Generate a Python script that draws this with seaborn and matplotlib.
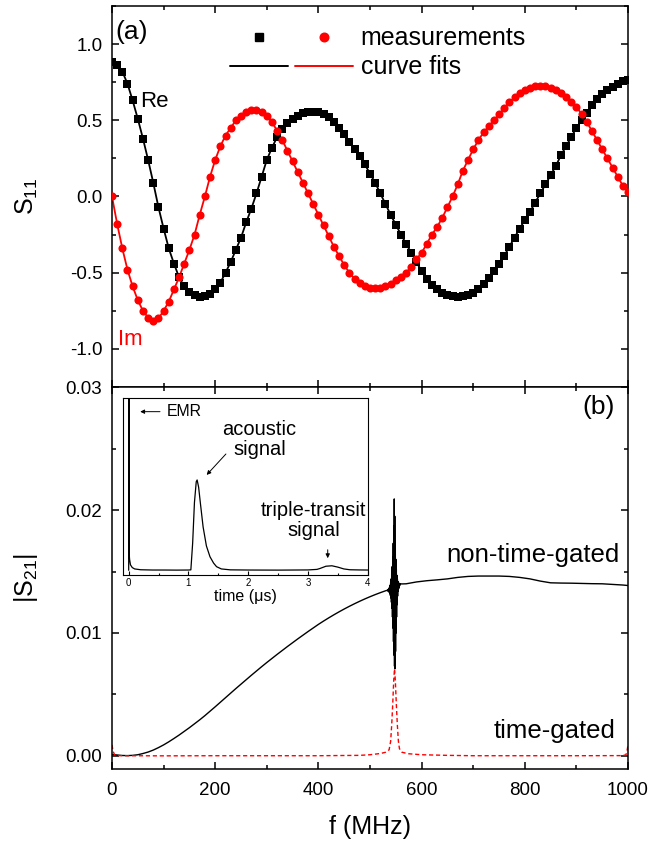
import numpy as np
import matplotlib
matplotlib.use("Agg")
import matplotlib.pyplot as plt
from matplotlib.ticker import MultipleLocator, FormatStrFormatter
from matplotlib.lines import Line2D
from matplotlib.legend_handler import HandlerTuple
import seaborn as sns

sns.set_style("ticks", rc={"axes.edgecolor": "black", "xtick.color": "black",
                           "ytick.color": "black", "text.color": "black",
                           "axes.labelcolor": "black"})
plt.rcParams["font.family"] = ["Liberation Sans", "DejaVu Sans"]
plt.rcParams["axes.unicode_minus"] = False
plt.rcParams["axes.linewidth"] = 1.1

# ── (a) S11 measurements, 10 MHz steps ─────────────────────
f_s11 = np.arange(0, 1001, 10)
re_s11 = [0.885, 0.86, 0.82, 0.74, 0.63, 0.51, 0.38, 0.24, 0.09, -0.07,
          -0.21, -0.34, -0.44, -0.53, -0.59, -0.625, -0.648, -0.662, -0.655, -0.64,
          -0.61, -0.565, -0.50, -0.43, -0.35, -0.27, -0.17, -0.08, 0.02, 0.13,
          0.24, 0.32, 0.39, 0.44, 0.48, 0.51, 0.53, 0.545, 0.553, 0.557,
          0.553, 0.54, 0.52, 0.49, 0.45, 0.41, 0.36, 0.31, 0.265, 0.21,
          0.15, 0.09, 0.02, -0.05, -0.12, -0.185, -0.25, -0.31, -0.37, -0.43,
          -0.49, -0.54, -0.58, -0.61, -0.63, -0.645, -0.655, -0.657, -0.655, -0.645,
          -0.63, -0.61, -0.575, -0.535, -0.49, -0.44, -0.39, -0.33, -0.27, -0.21,
          -0.155, -0.10, -0.04, 0.02, 0.08, 0.14, 0.20, 0.27, 0.33, 0.39,
          0.45, 0.50, 0.55, 0.60, 0.64, 0.67, 0.70, 0.72, 0.74, 0.755,
          0.765]
im_s11 = [0.0, -0.18, -0.34, -0.48, -0.59, -0.68, -0.75, -0.795, -0.815, -0.80,
          -0.75, -0.69, -0.61, -0.53, -0.44, -0.35, -0.25, -0.12, 0.0, 0.13,
          0.24, 0.33, 0.40, 0.45, 0.50, 0.53, 0.555, 0.567, 0.565, 0.555,
          0.53, 0.49, 0.43, 0.37, 0.30, 0.23, 0.16, 0.09, 0.02, -0.05,
          -0.12, -0.19, -0.26, -0.33, -0.39, -0.45, -0.50, -0.54, -0.57, -0.59,
          -0.60, -0.602, -0.598, -0.585, -0.575, -0.55, -0.53, -0.50, -0.46, -0.41,
          -0.37, -0.31, -0.25, -0.20, -0.14, -0.07, 0.0, 0.08, 0.17, 0.24,
          0.31, 0.37, 0.42, 0.46, 0.50, 0.54, 0.58, 0.62, 0.65, 0.68,
          0.70, 0.715, 0.725, 0.728, 0.725, 0.715, 0.70, 0.68, 0.65, 0.62,
          0.59, 0.54, 0.49, 0.43, 0.37, 0.31, 0.25, 0.19, 0.13, 0.07,
          0.03]

# ── (b) |S21| non-time-gated ───────────────────────────────
f_ng = [0, 10, 20, 30, 40, 50, 60, 70, 80, 90, 100, 110, 120, 130, 140, 150, 160, 170, 180, 190,
        200, 210, 220, 230, 240, 250, 260, 270, 280, 290, 300, 310, 320, 330, 340, 350, 360,
        370, 380, 390, 400, 410, 420, 430, 440, 450, 460, 470, 480, 490, 500, 510, 520, 530,
        534.0, 534.5, 535.0, 535.5, 536.0, 536.5, 537.0, 537.5, 538.0, 538.5, 539.0, 539.5,
        540.0, 540.5, 541.0, 541.5, 542.0, 542.5, 543.0, 543.5, 544.0, 544.5, 545.0, 545.5,
        546.0, 546.5, 547.0, 547.5, 548.0, 548.5, 549.0, 549.5, 550.0, 550.5, 551.0, 551.5,
        552.0, 552.5, 553.0, 553.5, 554.0, 554.5, 555.0, 555.5, 556.0, 556.5, 557.0, 557.5, 558.0,
        562, 570, 590, 610, 630, 650, 670, 690, 710, 730, 750, 770, 790, 810, 830, 850,
        870, 890, 910, 930, 950, 970, 990, 1000]
s21_ng = [0.00012, 0.00008, 0.00004, 0.00003, 0.00005, 0.0001, 0.0002, 0.00032, 0.00048, 0.00068,
          0.0009, 0.00115, 0.00142, 0.0017, 0.002, 0.0023, 0.00262, 0.00294, 0.00328, 0.00364,
          0.0040, 0.00437, 0.00474, 0.00511, 0.00548, 0.00584, 0.0062, 0.00656, 0.00691, 0.00726,
          0.0076, 0.00793, 0.00826, 0.00858, 0.0089, 0.00921, 0.00952, 0.00982, 0.01012, 0.01041,
          0.0107, 0.01097, 0.01123, 0.01148, 0.01172, 0.01195, 0.01217, 0.01238, 0.01258, 0.01277,
          0.01295, 0.01312, 0.01328, 0.01343,
          0.01348, 0.01342, 0.01353, 0.01340, 0.01358, 0.01336, 0.01365, 0.01330, 0.01375, 0.01320,
          0.01390, 0.01305, 0.01410, 0.01285, 0.01440, 0.01250, 0.01480, 0.01200, 0.01540, 0.01130,
          0.01620, 0.01040, 0.01730, 0.00930, 0.01870, 0.00820, 0.02090, 0.00730, 0.01950, 0.00710,
          0.01750, 0.00850, 0.01600, 0.01000, 0.01520, 0.01130, 0.01470, 0.01230, 0.01440, 0.01300,
          0.01420, 0.01340, 0.01410, 0.01360, 0.01405, 0.01375, 0.01402, 0.01385, 0.01400,
          0.01399, 0.0140, 0.01415, 0.01425, 0.01432, 0.0144, 0.01452, 0.0146, 0.01463, 0.01463,
          0.01463, 0.0146, 0.01452, 0.0144, 0.01422, 0.01408, 0.01406, 0.01405, 0.01403, 0.01401,
          0.0140, 0.01395, 0.0139, 0.01386]

# ── (b) |S21| time-gated ───────────────────────────────────
f_g = [0, 2, 5, 10, 20, 100, 200, 300, 400, 480, 500, 520, 530, 537, 540, 542, 544, 546, 547.5,
       549, 551, 553, 555, 557, 562, 575, 600, 650, 700, 800, 900, 990, 996, 998, 1000]
s21_g = [0.0009, 0.0004, 0.0001, 0.00003, 0.00002, 0.00001, 0.00002, 0.00002, 0.00002, 0.00005,
         0.0001, 0.0002, 0.0003, 0.0005, 0.0012, 0.0025, 0.0042, 0.0062, 0.0071, 0.0062,
         0.0042, 0.0025, 0.0012, 0.0006, 0.0003, 0.00018, 0.0001, 0.00005, 0.00002, 0.00002,
         0.00002, 0.00003, 0.0001, 0.0004, 0.0009]

# ── inset: time-domain signal (arb. units) ─────────────────
t_inset = [0.0, 0.003, 0.006, 0.015, 0.03, 0.06, 0.1, 0.2, 0.4, 0.6, 0.8, 1.0,
           1.04, 1.07, 1.10, 1.13, 1.145, 1.17, 1.20, 1.245, 1.30, 1.36, 1.42, 1.47, 1.55, 1.7,
           2.0, 2.5, 3.0, 3.15, 3.2, 3.3, 3.4, 3.5, 3.6, 3.7, 3.85, 4.0]
a_inset = [0.0, 3.0, 0.2, 0.12, 0.06, 0.03, 0.015, 0.006, 0.003, 0.003, 0.002, 0.003,
           0.005, 0.3, 0.75, 0.98, 1.0, 0.92, 0.74, 0.48, 0.27, 0.15, 0.08, 0.04, 0.015, 0.005,
           0.003, 0.002, 0.004, 0.01, 0.02, 0.045, 0.05, 0.035, 0.015, 0.006, 0.004, 0.003]

assert len(re_s11) == len(f_s11) == len(im_s11)
assert len(f_ng) == len(s21_ng) and len(f_g) == len(s21_g) and len(t_inset) == len(a_inset)

fig = plt.figure(figsize=(6.5, 8.41), dpi=100)
ax1 = fig.add_axes([0.1723, 0.5398, 0.7939, 0.4531])
ax2 = fig.add_axes([0.1723, 0.0856, 0.7939, 0.4542], sharex=ax1)

# top panel
sns.lineplot(x=f_s11, y=re_s11, ax=ax1, color="black", lw=1.3, estimator=None)
sns.scatterplot(x=f_s11, y=re_s11, ax=ax1, color="black", marker="s", s=26, linewidth=0, zorder=3)
sns.lineplot(x=f_s11, y=im_s11, ax=ax1, color="red", lw=1.3, estimator=None)
sns.scatterplot(x=f_s11, y=im_s11, ax=ax1, color="red", marker="o", s=34, linewidth=0, zorder=4)

ax1.set_xlim(0, 1000)
ax1.set_ylim(-1.25, 1.25)
ax1.yaxis.set_major_locator(MultipleLocator(0.5))
ax1.yaxis.set_minor_locator(MultipleLocator(0.25))
ax1.yaxis.set_major_formatter(FormatStrFormatter("%.1f"))
ax1.set_ylabel(r"$\mathregular{S_{11}}$", fontsize=18)
ax1.yaxis.set_label_coords(-0.14, 0.5)
ax1.set_xlabel("")

ax1.text(0.006, 0.932, "(a)", transform=ax1.transAxes, fontsize=19, ha="left", va="center")
ax1.text(54, 0.62, "Re", fontsize=16, ha="left", va="center")
ax1.text(12, -0.94, "Im", color="red", fontsize=16, ha="left", va="center")

h_meas = (Line2D([], [], ls="none", marker="s", color="black", markersize=5.5),
          Line2D([], [], ls="none", marker="o", color="red", markersize=6.2))
h_fit = (Line2D([], [], color="black", lw=1.4), Line2D([], [], color="red", lw=1.4))
ax1.legend([h_meas, h_fit], ["measurements", "curve fits"],
           handler_map={tuple: HandlerTuple(ndivide=None, pad=0.28)},
           loc="center left", bbox_to_anchor=(0.2287, 0.8766), frameon=False,
           fontsize=18, handlelength=4.9, handletextpad=0.32, borderpad=0,
           borderaxespad=0, labelspacing=0.2)

# bottom panel
sns.lineplot(x=f_ng, y=s21_ng, ax=ax2, color="black", lw=1.0, estimator=None)
sns.lineplot(x=f_g, y=s21_g, ax=ax2, color="red", lw=1.0, estimator=None, linestyle=(0, (3, 2)))

ax2.set_ylim(-0.00106, 0.03)
ax2.xaxis.set_major_locator(MultipleLocator(200))
ax2.xaxis.set_minor_locator(MultipleLocator(100))
ax2.yaxis.set_major_locator(MultipleLocator(0.01))
ax2.yaxis.set_minor_locator(MultipleLocator(0.005))
ax2.yaxis.set_major_formatter(FormatStrFormatter("%.2f"))
ax2.set_ylabel(r"$\mathregular{|S_{21}|}$", fontsize=18)
ax2.yaxis.set_label_coords(-0.14, 0.5)
ax2.set_xlabel("f (MHz)", fontsize=18, labelpad=12)

ax2.text(0.975, 0.948, "(b)", transform=ax2.transAxes, fontsize=19, ha="right", va="center")
ax2.text(984, 0.01637, "non-time-gated", fontsize=18.5, ha="right", va="center")
ax2.text(975, 0.0020, "time-gated", fontsize=18.5, ha="right", va="center")

for ax in (ax1, ax2):
    ax.tick_params(which="both", direction="in", top=True, right=True, width=1.1,
                   labelsize=13.5, pad=7)
    ax.tick_params(which="major", length=5)
    ax.tick_params(which="minor", length=2.7)
ax1.tick_params(labelbottom=False)
ax2.tick_params(axis="x", pad=9)

# inset
axin = fig.add_axes([0.1888, 0.3163, 0.377, 0.2101])
sns.lineplot(x=t_inset, y=a_inset, ax=axin, color="black", lw=0.9, estimator=None)
axin.set_xlim(-0.1, 4)
axin.set_ylim(-0.052, 1.904)
axin.set_yticks([])
axin.xaxis.set_major_locator(MultipleLocator(1))
axin.xaxis.set_minor_locator(MultipleLocator(0.5))
axin.tick_params(which="both", direction="in", labelsize=7, pad=2, width=0.8)
axin.tick_params(which="major", length=3)
axin.tick_params(which="minor", length=1.8)
for sp in axin.spines.values():
    sp.set_linewidth(0.8)
axin.set_xlabel("time (μs)", fontsize=11.5, labelpad=1)
axin.set_ylabel("")

arrow = dict(arrowstyle="-|>", color="black", lw=0.7, mutation_scale=6)
axin.annotate("", xy=(0.146, 1.756), xytext=(0.57, 1.756), arrowprops=arrow)
axin.text(0.64, 1.756, "EMR", fontsize=11.4, ha="left", va="center")
axin.text(2.19, 1.45, "acoustic\nsignal", fontsize=14.5, ha="center", va="center",
          linespacing=1.05)
axin.annotate("", xy=(1.273, 1.033), xytext=(1.658, 1.31), arrowprops=arrow)
axin.text(3.1, 0.55, "triple-transit\nsignal", fontsize=14.5, ha="center", va="center",
          linespacing=1.05)
axin.annotate("", xy=(3.33, 0.103), xytext=(3.33, 0.258), arrowprops=arrow)

fig.savefig("out.png", dpi=100)
print("saved out.png")
